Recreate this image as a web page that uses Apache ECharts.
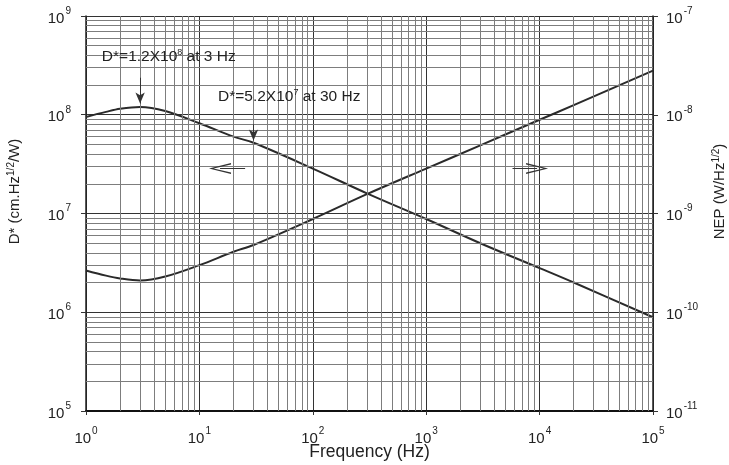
<!DOCTYPE html>
<html><head><meta charset="utf-8">
<script src="https://cdn.jsdelivr.net/npm/echarts@6/dist/echarts.min.js"></script>
<style>html,body{margin:0;padding:0;background:#fff}#c{width:729px;height:465px}</style>
</head><body><div id="c"></div>
<script>
// Frequency (Hz)
const freq = [1, 1.5, 2, 3, 5, 10, 20, 30, 100, 300, 1000, 3000, 10000, 20000, 100000];
// D* (cm.Hz^1/2/W), left axis
const dStar = [0.95e8, 1.07e8, 1.15e8, 1.2e8, 1.09e8, 0.82e8, 0.6e8, 0.52e8, 2.85e7, 1.6e7, 8.8e6, 5.0e6, 2.8e6, 2.0e6, 0.89e6];
// NEP (W/Hz^1/2), right axis
const nep = [2.65e-10, 2.35e-10, 2.2e-10, 2.1e-10, 2.3e-10, 3.0e-10, 4.1e-10, 4.8e-10, 8.8e-10, 1.57e-9, 2.85e-9, 4.9e-9, 8.9e-9, 1.25e-8, 2.8e-8];
// axis ranges
const xRange = [1, 1e5];
const leftRange = [1e5, 1e9];
const rightRange = [1e-11, 1e-7];
// minor grid multipliers
const minorMult = [2, 3, 4, 5, 6, 7, 8, 9];

const FONT = 'Liberation Sans, Arial, sans-serif';
const supRich = {
  b: {fontSize: 15, fontFamily: FONT, color: '#222', lineHeight: 20, verticalAlign: 'bottom'},
  s: {fontSize: 10, fontFamily: FONT, color: '#222', lineHeight: 17, verticalAlign: 'top', padding: [0, 0, 0, 1]}
};
function powLabel(v) {
  const e = Math.round(Math.log10(v));
  return '{b|10}{s|' + e + '}';
}
function decades(lo, hi) {
  const out = [];
  for (let d = Math.round(Math.log10(lo)); d < Math.round(Math.log10(hi)); d++) {
    for (const m of minorMult) out.push(m * Math.pow(10, d));
  }
  return out;
}
const minorX = decades(xRange[0], xRange[1]);
const minorY = decades(leftRange[0], leftRange[1]);

const gridLines = [];
minorX.forEach(v => gridLines.push({xAxis: v}));
minorY.forEach(v => gridLines.push({yAxis: v}));

const openArrow = 'path://M0,24 L5,0 L10,24 L8.6,24 L5,5 L1.4,24 Z';

const chart = echarts.init(document.getElementById('c'));
const lineColor = '#2a2a2a';
const nameRich = {s: {fontSize: 10, color: '#222', verticalAlign: 'top', lineHeight: 18, fontFamily: FONT}};
chart.setOption({
  animation: false,
  backgroundColor: '#fff',
  textStyle: {fontFamily: FONT},
  grid: {left: 86, right: 76, top: 16, bottom: 54, containLabel: false, outerBoundsMode: 'none'},
  xAxis: {
    type: 'log', logBase: 10, min: xRange[0], max: xRange[1],
    name: 'Frequency (Hz)', nameLocation: 'middle', nameGap: 32, nameMoveOverlap: false,
    nameTextStyle: {fontSize: 17.5, color: '#222', fontFamily: FONT},
    axisLine: {lineStyle: {color: '#111', width: 2}},
    axisTick: {show: true, length: 4, lineStyle: {color: '#333'}},
    axisLabel: {formatter: powLabel, rich: supRich, margin: 15},
    splitLine: {show: true, lineStyle: {color: '#333', width: 1}}
  },
  yAxis: [{
    type: 'log', logBase: 10, min: leftRange[0], max: leftRange[1],
    name: 'D* (cm.Hz{s|1/2}/W)', nameLocation: 'middle', nameRotate: 90, nameGap: 62,
    nameTextStyle: {fontSize: 15, color: '#222', fontFamily: FONT, padding: [0, 0, 0, 44], rich: nameRich},
    axisLine: {show: true, lineStyle: {color: '#222', width: 1.5}},
    axisTick: {show: true, length: 5, lineStyle: {color: '#333'}},
    axisLabel: {formatter: powLabel, rich: supRich, margin: 15},
    splitLine: {show: true, lineStyle: {color: '#333', width: 1}}
  }, {
    type: 'log', logBase: 10, min: rightRange[0], max: rightRange[1],
    name: 'NEP (W/Hz{s|1/2})', nameLocation: 'middle', nameRotate: 90, nameGap: 58,
    nameTextStyle: {fontSize: 15, color: '#222', fontFamily: FONT, padding: [0, 0, 0, 44], rich: nameRich},
    axisLine: {show: true, lineStyle: {color: '#222', width: 1.5}},
    axisTick: {show: true, length: 5, lineStyle: {color: '#333'}},
    axisLabel: {formatter: powLabel, rich: supRich, margin: 13},
    splitLine: {show: false}
  }],
  series: [{
    name: 'grid', type: 'line', data: [[xRange[0], leftRange[0]]],
    showSymbol: false, symbol: 'none', lineStyle: {opacity: 0}, silent: true,
    markLine: {
      silent: true, symbol: 'none', animation: false,
      label: {show: false},
      lineStyle: {color: '#7d7d7d', width: 1, type: 'solid'},
      data: gridLines
    }
  }, {
    name: 'D*', type: 'line', smooth: 0.35, showSymbol: false, symbol: 'none',
    data: freq.map((f, i) => [f, dStar[i]]),
    lineStyle: {color: lineColor, width: 2},
    markPoint: {
      symbol: 'circle', symbolSize: 0, silent: true,
      label: {show: true, position: 'right', distance: 0, color: '#222', fontSize: 15.5, fontFamily: FONT},
      data: [
        {coord: [1.38, 3.85e8], label: {formatter: 'D*=1.2X10{s|8} at 3 Hz',
          rich: {s: {fontSize: 9, verticalAlign: 'top', lineHeight: 18, color: '#222'}}}},
        {coord: [14.6, 1.52e8], label: {formatter: 'D*=5.2X10{s|7} at 30 Hz',
          rich: {s: {fontSize: 9, verticalAlign: 'top', lineHeight: 18, color: '#222'}}}}
      ]
    },
    markLine: {
      silent: true, label: {show: false},
      lineStyle: {color: '#333', width: 1, type: 'solid'},
      data: [
        [{coord: [3, 2.37e8], symbol: 'none'}, {coord: [3, 1.3e8], symbol: 'arrow', symbolSize: [7, 11]}],
        [{coord: [30, 0.8e8], symbol: 'none'}, {coord: [30, 0.55e8], symbol: 'arrow', symbolSize: [7, 11]}],
        [{coord: [25.3, 2.85e7], symbol: 'none'}, {coord: [15.2, 2.85e7], symbol: openArrow, symbolSize: [11, 22]}],
        [{coord: [5.77e3, 2.85e7], symbol: 'none'}, {coord: [9.5e3, 2.85e7], symbol: openArrow, symbolSize: [11, 22]}]
      ]
    }
  }, {
    name: 'NEP', type: 'line', yAxisIndex: 1, smooth: 0.35, showSymbol: false, symbol: 'none',
    data: freq.map((f, i) => [f, nep[i]]),
    lineStyle: {color: lineColor, width: 2}
  }]
});
</script>
</body></html>
